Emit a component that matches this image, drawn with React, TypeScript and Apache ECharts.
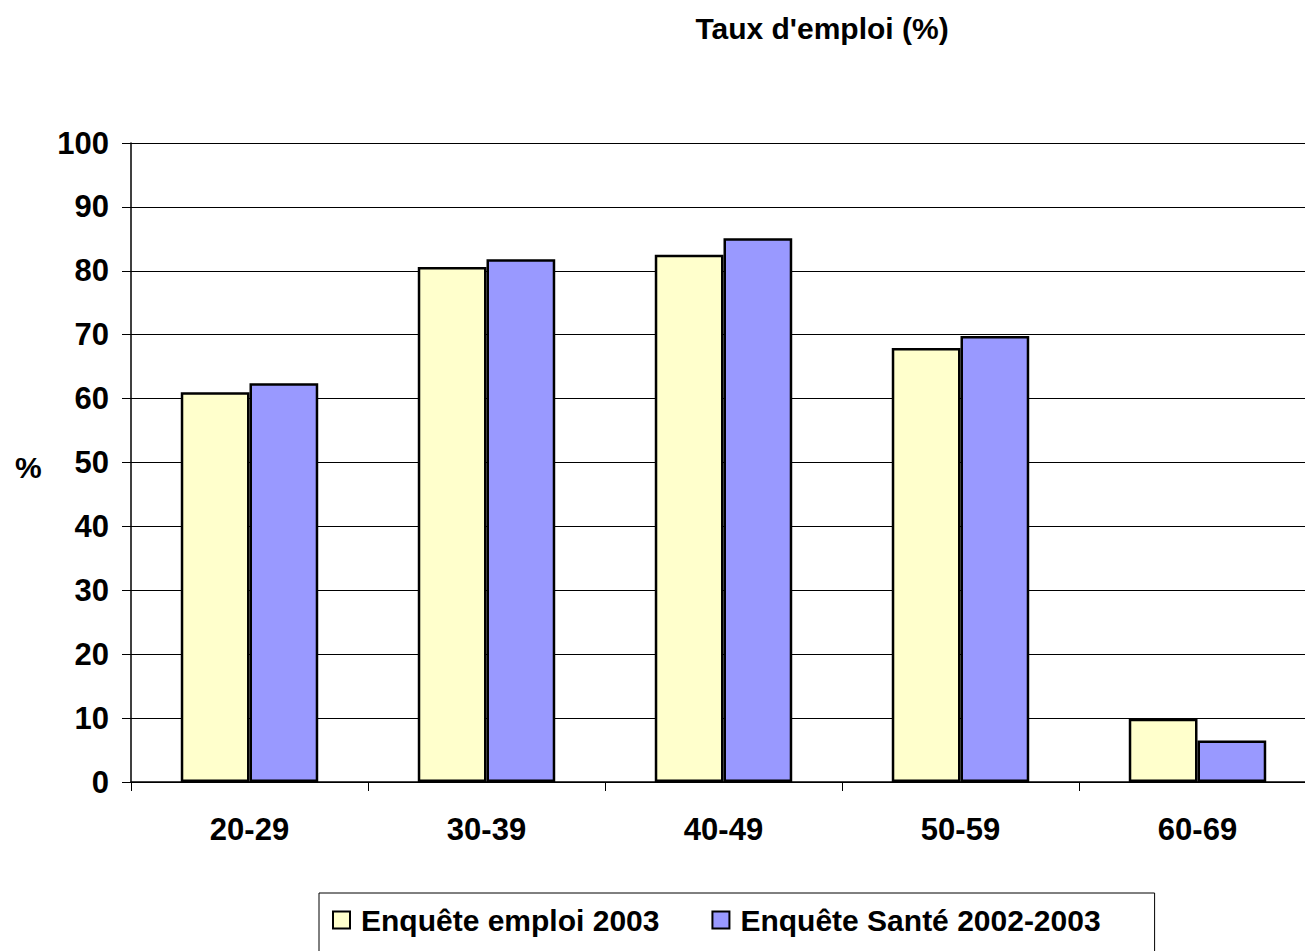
import React, { useEffect, useRef } from "react";
import * as echarts from "echarts";

const categories = ["20-29", "30-39", "40-49", "50-59", "60-69"];
const emploi2003 = [61, 80.6, 82.5, 67.9, 9.9];
const sante2002 = [62.4, 81.8, 85.1, 69.8, 6.5];
const seriesNames = ["Enquête emploi 2003", "Enquête Santé 2002-2003"];

const FONT = "'Liberation Sans', Arial, sans-serif";

export default function App() {
  const ref = useRef<HTMLDivElement>(null);
  useEffect(() => {
    if (!ref.current) return;
    document.documentElement.style.overflow = "hidden";
    document.body.style.overflow = "hidden";
    const chart = echarts.init(ref.current, undefined, { renderer: "svg" });
    chart.setOption({
      animation: false,
      backgroundColor: "#ffffff",
      title: {
        text: "Taux d'emploi (%)",
        left: 817,
        top: 8,
        textAlign: "center",
        textStyle: { fontFamily: FONT, fontWeight: "bold", fontSize: 30, color: "#000" },
      },
      graphic: [
        {
          type: "text",
          left: 15,
          top: 452,
          style: { text: "%", font: `bold 30px ${FONT}`, fill: "#000" },
        },
      ],
      legend: {
        left: 319,
        top: 893,
        orient: "horizontal",
        borderColor: "#000",
        borderWidth: 1,
        borderRadius: 0,
        padding: [12, 54, 20, 13],
        itemGap: 52,
        itemWidth: 17,
        itemHeight: 17,
        icon: "rect",
        textStyle: { fontFamily: FONT, fontWeight: "bold", fontSize: 30, color: "#000", padding: [0, 0, 0, 6] },
        data: seriesNames,
      },
      grid: { left: 131, right: 0, top: 143, bottom: 169, containLabel: false },
      xAxis: {
        type: "category",
        data: categories,
        axisLine: { lineStyle: { color: "#000", width: 1.5 } },
        axisTick: { show: true, length: 9, lineStyle: { color: "#000" } },
        axisLabel: { fontFamily: FONT, fontWeight: "bold", fontSize: 31, color: "#000", margin: 32 },
      },
      yAxis: {
        type: "value",
        min: 0,
        max: 100,
        interval: 10,
        axisLine: { show: true, lineStyle: { color: "#000", width: 1.5 } },
        axisTick: { show: true, length: 9, lineStyle: { color: "#000" } },
        axisLabel: { fontFamily: FONT, fontWeight: "bold", fontSize: 31, color: "#000", margin: 22 },
        splitLine: { show: true, lineStyle: { color: "#000", width: 1 } },
      },
      series: [
        {
          name: seriesNames[0],
          type: "bar",
          data: emploi2003,
          barGap: "0%",
          barCategoryGap: "42%",
          itemStyle: { color: "#FFFFCC", borderColor: "#000", borderWidth: 2.5 },
        },
        {
          name: seriesNames[1],
          type: "bar",
          data: sante2002,
          barGap: "0%",
          barCategoryGap: "42%",
          itemStyle: { color: "#9999FF", borderColor: "#000", borderWidth: 2.5 },
        },
      ],
    });
    return () => chart.dispose();
  }, []);
  return (
    <div
      ref={ref}
      style={{ position: "absolute", left: 0, top: 0, width: 1316, height: 951 }}
    />
  );
}
